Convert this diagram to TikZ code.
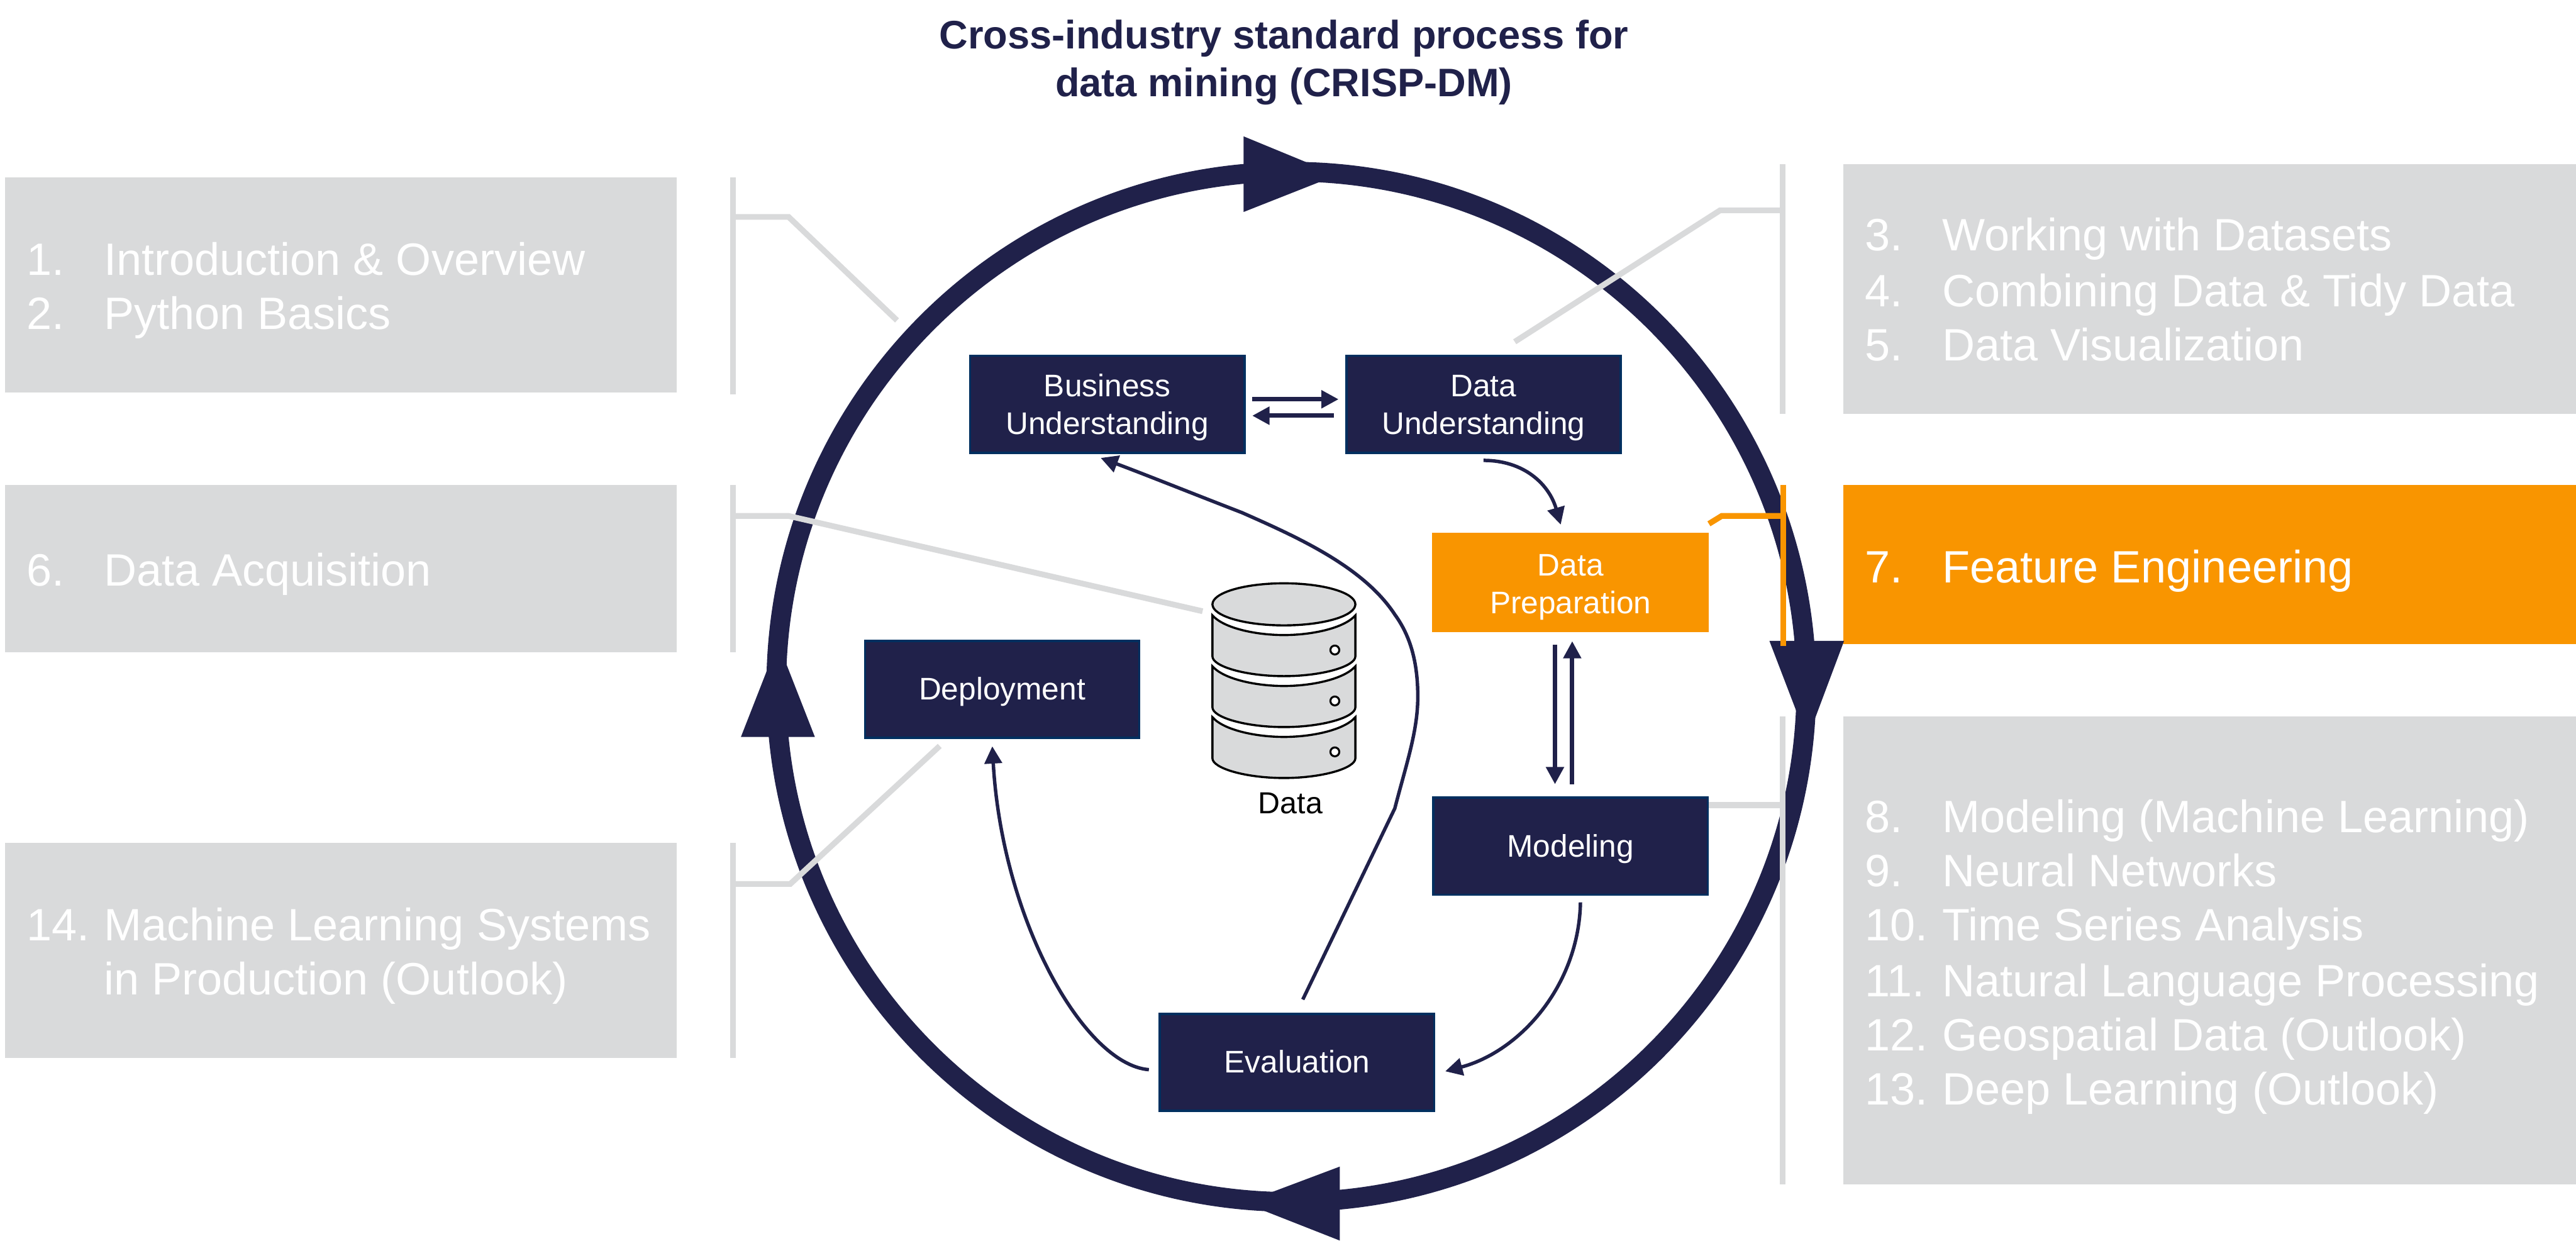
\documentclass[tikz,border=0pt]{standalone}
\usepackage{fontspec}
\setmainfont{Liberation Sans}
\usetikzlibrary{arrows.meta}
\definecolor{navy}{HTML}{20214A}
\definecolor{edgeblue}{HTML}{002F5F}
\definecolor{lightgrey}{HTML}{D9DADB}
\definecolor{highlight}{HTML}{F99500}
\tikzset{
	phasebox/.style={draw=edgeblue, line width=1.4pt, fill=navy, text=white, align=center, inner sep=0pt,
		minimum width=167pt, minimum height=59pt, font=\fontsize{19}{23}\selectfont,
		execute at begin node={\rule[-5pt]{0pt}{23pt}}},
	activebox/.style={phasebox, draw=highlight, fill=highlight},
	chapterbox/.style={fill=lightgrey, inner sep=0pt},
	chaptertext/.style={text=white, anchor=base west, inner sep=0pt, yshift=-0.5pt, font=\fontsize{27.6}{33}\selectfont},
	bracket/.style={draw=lightgrey, line width=3.5pt},
	flow/.style={navy, line width=2.1pt, -{Triangle[length=10.5pt,width=10.5pt]}},
	swap/.style={flow, line width=2.7pt},
	disk/.style={draw=black, fill=lightgrey, line width=1.3pt}
}
\begin{document}
\begin{tikzpicture}[x=1pt, y=-1pt]
\useasboundingbox (0,0) rectangle (1568,755);

\node[font=\bfseries\fontsize{24.2}{29}\selectfont, text=navy, align=center, inner sep=0pt] (title) at (781.5,38) {Cross-industry standard process for\\data mining (CRISP-DM)};

% chapter boxes
\node[chapterbox, minimum width=409pt, minimum height=131pt] (box1) at (207.5,173.5) {};
\node[chapterbox, minimum width=409pt, minimum height=102pt] (box6) at (207.5,346) {};
\node[chapterbox, minimum width=409pt, minimum height=131pt] (box14) at (207.5,578.5) {};
\node[chapterbox, minimum width=446pt, minimum height=152pt] (box3) at (1345,176) {};
\node[chapterbox, fill=highlight, minimum width=446pt, minimum height=97pt] (box7) at (1345,343.5) {};
\node[chapterbox, minimum width=446pt, minimum height=285pt] (box8) at (1345,578.5) {};

\foreach \num/\txt/\y in {1./Introduction \& Overview/167, 2./Python Basics/200, 6./Data Acquisition/356, 14./Machine Learning Systems/572}{
	\node[chaptertext] (num\y) at (16,\y) {\num};
	\node[chaptertext] (txt\y) at (63,\y) {\txt};
}
\node[chaptertext] (txt605) at (63,605) {in Production (Outlook)};
\foreach \num/\txt/\y in {3./Working with Datasets/152, 4./Combining Data \& Tidy Data/186, 5./Data Visualization/219, 7./Feature Engineering/354, 8./Modeling (Machine Learning)/506, 9./Neural Networks/539, 10./Time Series Analysis/572, 11./Natural Language Processing/606, 12./Geospatial Data (Outlook)/639, 13./Deep Learning (Outlook)/672}{
	\node[chaptertext] (rnum\y) at (1135,\y) {\num};
	\node[chaptertext] (rtxt\y) at (1182,\y) {\txt};
}

% outer cycle
\draw[navy, line width=12pt] (786,418) circle (313.5);
\fill[navy] (757,83) -- (814,106.5) -- (757,129) -- cycle;
\fill[navy] (1077,390) -- (1122.5,390) -- (1100,450) -- cycle;
\fill[navy] (815.5,710) -- (757,732) -- (815.5,755) -- cycle;
\fill[navy] (451,448.5) -- (473.5,391) -- (496,448.5) -- cycle;

% phases
\node[phasebox] (business) at (674,246) {\rule{0pt}{19pt}Business\\Understanding};
\node[phasebox] (understanding) at (903,246) {\rule{0pt}{19pt}Data\\Understanding};
\node[activebox] (preparation) at (956,354.5) {\rule{0pt}{20pt}Data\\Preparation};
\node[phasebox] (modeling) at (956,515) {Modeling};
\node[phasebox] (evaluation) at (789.5,646.5) {Evaluation};
\node[phasebox] (deployment) at (610,419.5) {Deployment};

% data store
\foreach \y in {436.5,405.5,374.5}
	\draw[disk] (738,\y) .. controls (745,\y+8) and (765,\y+12) .. (781.5,\y+12) .. controls (798,\y+12) and (818,\y+8) .. (825,\y) -- (825,\y+25) .. controls (825,\y+31) and (805,\y+37) .. (781.5,\y+37) .. controls (758,\y+37) and (738,\y+31) .. (738,\y+25) -- cycle;
\draw[disk] (781.5,367.8) ellipse (43.5 and 12.8);
\foreach \y in {395.6,426.6,457.6}
	\draw[draw=black, fill=white, line width=1.2pt] (812.5,\y) circle (2.7);
\node[font=\fontsize{18.5}{22}\selectfont, inner sep=0pt] (data) at (785.5,489) {Data};

% flow between phases
\draw[swap] ([xshift=4pt,yshift=3pt]business.east) -- ([xshift=-4pt,yshift=3pt]understanding.west);
\draw[swap] ([xshift=-7pt,yshift=-7pt]understanding.west) -- ([xshift=4pt,yshift=-7pt]business.east);
\draw[flow] (understanding.south) ++(0,4) .. controls +(25,0) and (943,295) .. ([xshift=-6pt,yshift=5pt]preparation.north);
\draw[swap] ([xshift=-9.5pt,yshift=-7.5pt]preparation.south) -- ([xshift=-9.5pt,yshift=7.5pt]modeling.north);
\draw[swap] ([xshift=1pt,yshift=7.5pt]modeling.north) -- ([xshift=1pt,yshift=-5.5pt]preparation.south);
\draw[flow] ([xshift=6pt,yshift=-4pt]modeling.south) .. controls (961,600) and (925,640) .. ([xshift=6pt,yshift=-5.5pt]evaluation.east);
\draw[flow] ([xshift=-6pt,yshift=-4.5pt]evaluation.west) .. controls (660,648) and (610,560) .. ([xshift=-6pt,yshift=-4.5pt]deployment.south);
\draw[flow] ([xshift=3.5pt,yshift=8pt]evaluation.north) -- (849,492) .. controls (856,465) and (863,445) .. (863,424) .. controls (863,400) and (857,385) .. (849,374) .. controls (830,345) and (790,327) .. (756,312) .. controls (725,300) and (695,288) .. ([xshift=-4pt,yshift=-2.5pt]business.south);

% brackets
\coordinate (lead1) at (546,195);
\coordinate (lead6) at (732,372);
\coordinate (lead14) at (572,454);
\coordinate (lead3) at (922,208);
\draw[bracket] (446,108) -- (446,240);
\draw[bracket] (446,132) -- (480,132) -- (lead1);
\draw[bracket] (446,295) -- (446,397);
\draw[bracket] (446,314) -- (480,314) -- (lead6);
\draw[bracket] (446,513) -- (446,644);
\draw[bracket] (446,538) -- (481,538) -- (lead14);
\draw[bracket] (1085,100) -- (1085,252);
\draw[bracket] (1085,128) -- (1047,128) -- (lead3);
\draw[bracket] (1085,436) -- (1085,721);
\draw[bracket] (1085,490) -- ([yshift=25pt]modeling.east);
\draw[bracket, draw=highlight] (1085.5,295) -- (1085.5,393);
\draw[bracket, draw=highlight] (1085.5,314) -- (1048,314) -- ([yshift=5.5pt]preparation.north east);

\end{tikzpicture}
\end{document}
